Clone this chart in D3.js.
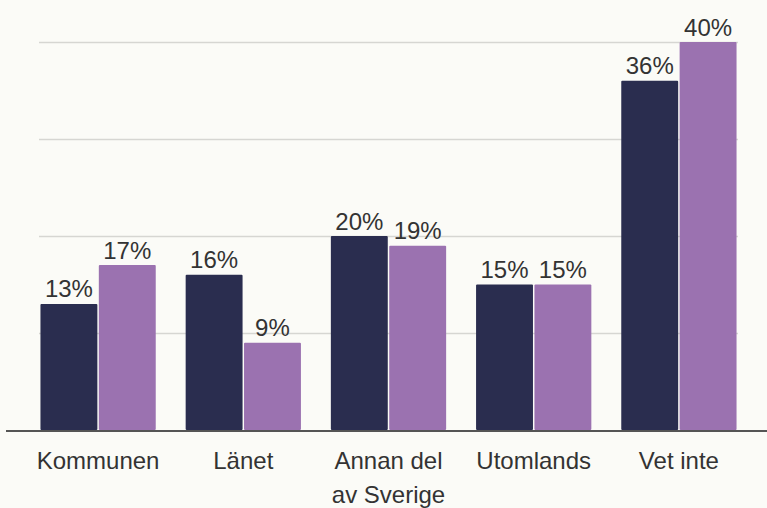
<!DOCTYPE html>
<html>
<head>
<meta charset="utf-8">
<script src="https://cdn.jsdelivr.net/npm/d3@7"></script>
<style>
  html, body { margin: 0; padding: 0; background: #fbfbf7; }
  svg { display: block; font-family: "Liberation Sans", Arial, sans-serif; }
  .grid line { stroke: #d6d6d2; stroke-width: 1.5; }
  .grid path { display: none; }
  .val { font-size: 24px; fill: #333; text-anchor: middle; }
  .cat { font-size: 24px; fill: #333; text-anchor: middle; }
</style>
</head>
<body>
<div id="chart"></div>
<script>
var categories = ["Kommunen", "Länet", "Annan del\nav Sverige", "Utomlands", "Vet inte"];
var seriesNames = ["A", "B"];
var seriesA = [13, 16, 20, 15, 36];
var seriesB = [17, 9, 19, 15, 40];
var gridTicks = [10, 20, 30, 40];
var colors = ["#2a2d4f", "#9b72b0"];

var width = 767, height = 508;

var svg = d3.select("#chart").append("svg")
    .attr("width", width)
    .attr("height", height);

var x0 = d3.scaleBand()
    .domain(categories)
    .range([39, 738])
    .paddingInner(0.186)
    .paddingOuter(0);

var x1 = d3.scaleBand()
    .domain(seriesNames)
    .range([0, x0.bandwidth()])
    .padding(0.025);

var y = d3.scaleLinear()
    .domain([0, 40])
    .range([430, 42]);

// gridlines
svg.append("g")
    .attr("class", "grid")
    .attr("transform", "translate(39,0)")
    .call(d3.axisLeft(y).tickValues(gridTicks).tickSize(-(738 - 39)).tickFormat(""));

var rows = categories.map(function(c, i) {
  return { cat: c, vals: [seriesA[i], seriesB[i]] };
});

var groups = svg.selectAll(".group")
    .data(rows)
  .enter().append("g")
    .attr("class", "group")
    .attr("transform", function(d) { return "translate(" + x0(d.cat) + ",0)"; });

groups.selectAll("rect")
    .data(function(d) { return d.vals.map(function(v, j) { return { key: seriesNames[j], v: v, j: j }; }); })
  .enter().append("rect")
    .attr("x", function(d) { return x1(d.key); })
    .attr("y", function(d) { return y(d.v); })
    .attr("width", x1.bandwidth())
    .attr("height", function(d) { return y(0) - y(d.v); })
    .attr("rx", 1)
    .style("fill", function(d) { return colors[d.j]; });

groups.selectAll(".val")
    .data(function(d) { return d.vals.map(function(v, j) { return { key: seriesNames[j], v: v }; }); })
  .enter().append("text")
    .attr("class", "val")
    .attr("x", function(d) { return x1(d.key) + x1.bandwidth() / 2; })
    .attr("y", function(d) { return y(d.v) - 6.5; })
    .text(function(d) { return d.v + "%"; });

// baseline
svg.append("line")
    .attr("x1", 6).attr("x2", 767)
    .attr("y1", y(0) + 1).attr("y2", y(0) + 1)
    .style("stroke", "#555")
    .style("stroke-width", 2);

// category labels
var catText = svg.selectAll(".cat")
    .data(categories)
  .enter().append("text")
    .attr("class", "cat")
    .attr("x", function(d) { return x0(d) + x0.bandwidth() / 2; })
    .attr("y", 468.5);

catText.selectAll("tspan")
    .data(function(d) { return d.split("\n"); })
  .enter().append("tspan")
    .attr("x", function() { return d3.select(this.parentNode).attr("x"); })
    .attr("dy", function(d, i) { return i === 0 ? 0 : 34; })
    .text(function(d) { return d; });
</script>
</body>
</html>
